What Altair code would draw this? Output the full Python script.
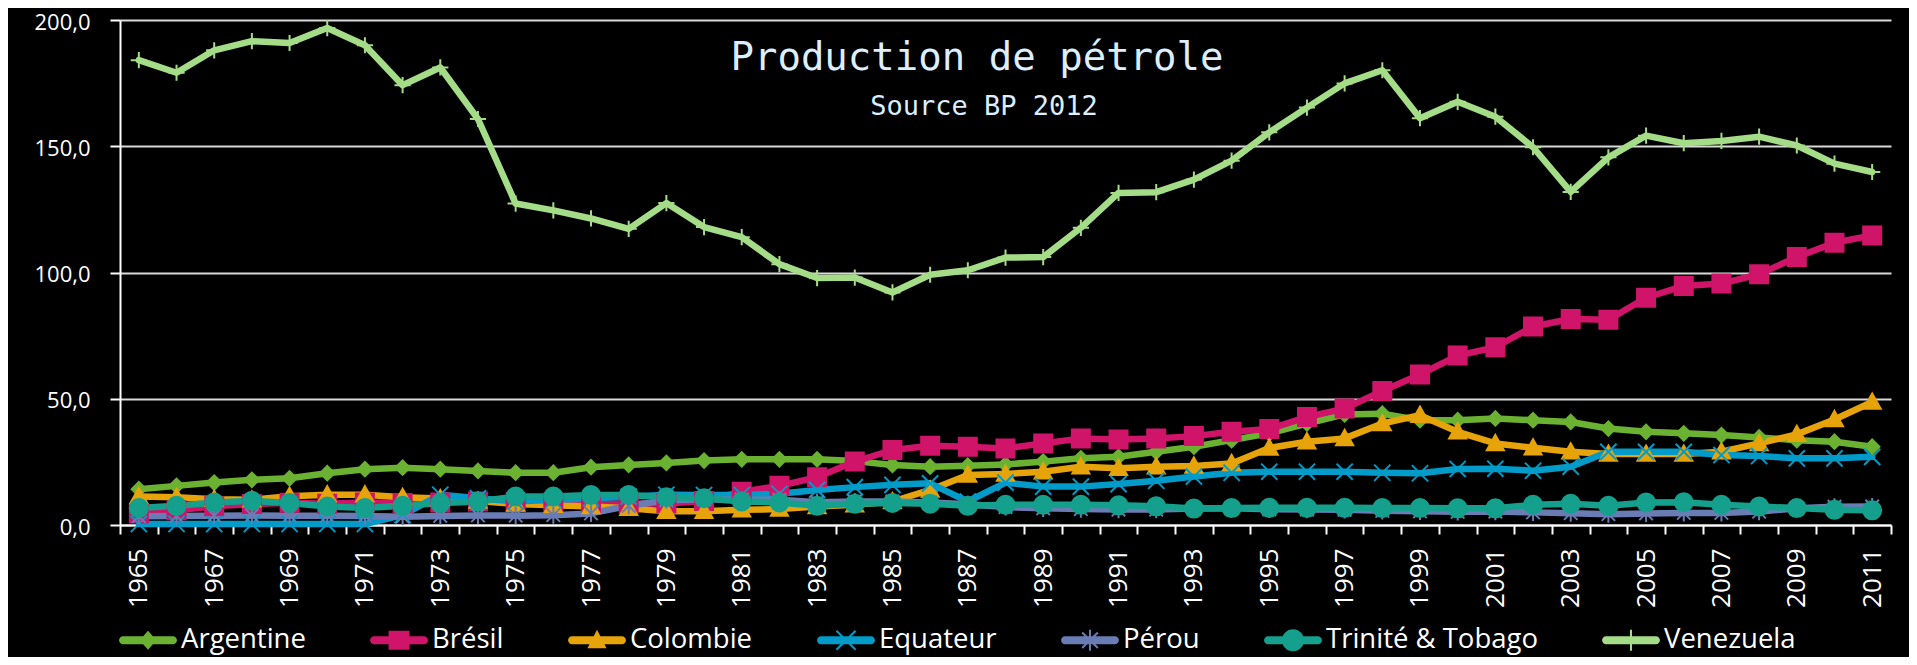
import altair as alt
import pandas as pd

years = list(range(1965, 2012))
countries = ["Argentine", "Brésil", "Colombie", "Equateur", "Pérou", "Trinité & Tobago", "Venezuela"]
colors = ["#6CB232", "#D0146A", "#E6A30A", "#009BC8", "#697DB4", "#14A08C", "#A5DC87"]

argentine = [14.2, 15.5, 16.8, 17.9, 18.5, 20.5, 22.1, 22.7, 22.1, 21.4,
             20.7, 20.7, 22.9, 23.8, 24.6, 25.5, 26.0, 26.0, 26.0, 25.3,
             23.8, 23.1, 23.5, 24.0, 25.1, 26.4, 27.0, 29.0, 31.0, 33.6,
             36.3, 40.2, 43.8, 44.1, 41.5, 41.5, 42.2, 41.5, 40.8, 38.2,
             36.9, 36.3, 35.6, 34.7, 33.6, 33.0, 31.0]
bresil = [4.6, 5.8, 7.4, 8.3, 8.8, 8.4, 8.9, 8.7, 8.9, 9.3,
          9.1, 8.9, 8.5, 8.4, 8.5, 9.5, 13.2, 15.5, 18.9, 25.1,
          29.7, 31.4, 31.0, 30.3, 32.3, 34.3, 33.9, 34.3, 35.2, 36.9,
          38.0, 42.8, 46.1, 53.1, 59.6, 67.1, 70.4, 78.6, 81.6, 81.3,
          90.0, 94.7, 95.6, 99.3, 106.1, 111.8, 114.7]
colombie = [11.3, 11.0, 10.2, 10.0, 11.4, 12.0, 12.0, 11.0, 10.5, 9.5,
            8.3, 7.8, 7.3, 6.6, 5.4, 5.4, 6.0, 6.3, 7.3, 8.0,
            9.3, 13.9, 19.8, 20.2, 21.1, 23.1, 22.5, 23.1, 23.4, 24.4,
            30.5, 33.0, 34.3, 40.2, 43.5, 36.9, 32.3, 30.6, 29.0, 28.1,
            28.1, 28.1, 29.0, 32.3, 35.9, 41.8, 48.7]
equateur = [0.4, 0.4, 0.4, 0.4, 0.4, 0.4, 0.4, 3.9, 12.0, 10.6,
            9.3, 10.0, 10.6, 11.2, 12.0, 11.9, 11.9, 12.4, 13.9, 15.0,
            15.9, 16.5, 9.3, 16.8, 15.2, 15.2, 16.2, 17.5, 19.2, 20.7,
            21.1, 21.1, 21.1, 20.7, 20.5, 22.2, 22.3, 21.5, 23.1, 29.0,
            29.0, 29.0, 27.7, 27.3, 26.4, 26.4, 27.0]
perou = [3.5, 3.6, 3.7, 3.8, 3.7, 3.7, 3.6, 3.3, 3.6, 3.8,
         3.7, 3.9, 4.6, 7.6, 9.8, 10.2, 10.0, 10.0, 9.0, 9.3,
         9.3, 8.9, 8.2, 7.1, 6.6, 6.3, 6.1, 6.1, 6.5, 6.6,
         6.2, 6.1, 6.0, 5.6, 5.4, 5.2, 5.3, 5.0, 4.7, 4.3,
         4.6, 4.8, 4.8, 5.3, 6.6, 7.2, 7.3]
trinite = [6.7, 7.6, 8.9, 9.6, 8.7, 7.3, 6.7, 7.6, 8.7, 9.3,
           11.3, 11.3, 11.9, 11.9, 11.0, 10.6, 9.3, 8.9, 7.6, 8.4,
           8.7, 8.4, 7.6, 8.0, 8.0, 8.0, 7.8, 7.4, 6.5, 6.7,
           6.8, 6.8, 6.8, 6.7, 6.7, 6.6, 6.6, 8.0, 8.4, 7.6,
           8.9, 9.0, 8.0, 7.3, 6.7, 6.0, 5.8]
venezuela = [184.1, 179.1, 188.0, 191.6, 190.9, 196.8, 190.0, 174.2, 181.2, 160.8,
             127.3, 124.6, 121.4, 117.3, 127.5, 118.0, 114.0, 103.3, 97.8, 98.0,
             92.1, 99.1, 100.9, 105.9, 106.1, 117.7, 131.5, 131.8, 136.8, 144.3,
             155.5, 165.3, 174.9, 180.1, 161.1, 167.6, 161.7, 149.6, 131.9, 145.6,
             154.2, 151.2, 152.1, 153.8, 150.3, 143.1, 139.8]

title_lines = ["Production de pétrole", "Source BP 2012"]
y_ticks = [0, 50, 100, 150, 200]

series = [argentine, bresil, colombie, equateur, perou, trinite, venezuela]
rows = []
for c, vals in zip(countries, series):
    for yr, v in zip(years, vals):
        rows.append({"annee": yr, "pays": c, "valeur": v})
df = pd.DataFrame(rows)

# marker shapes on the chart (unit square [-1,1])
chart_shapes = [
    "M0,-0.8L0.8,0L0,0.8L-0.8,0Z",
    "M-1,-1L1,-1L1,1L-1,1Z",
    "M0,-0.95L0.95,0.75L-0.95,0.75Z",
    "M-0.9,-0.9L0.9,0.9M0.9,-0.9L-0.9,0.9",
    "M-0.75,-0.75L0.75,0.75M0.75,-0.75L-0.75,0.75M0,-0.95L0,0.95",
    "M1,0A1,1,0,1,1,-1,0A1,1,0,1,1,1,0Z",
    "M-0.9,0L0.9,0M0,-0.9L0,0.9",
]

# legend symbols: a line segment with the marker (filled polygons, clockwise)
def diag_x(a, d):
    p1 = "M%g,%gL%g,%gL%g,%gL%g,%gZ" % (-a + d, -a - d, a + d, a - d, a - d, a + d, -a - d, -a + d)
    p2 = "M%g,%gL%g,%gL%g,%gL%g,%gZ" % (a + d, -a + d, -a + d, a + d, -a - d, a - d, a - d, -a - d)
    return p1 + p2

def vbar(t, b):
    return "M%g,%gL%g,%gL%g,%gL%g,%gZ" % (-t, -b, t, -b, t, b, -t, b)

r = 0.138
bar = "M-0.86,%gL0.86,%gA%g,%g,0,0,1,0.86,%gL-0.86,%gA%g,%g,0,0,1,-0.86,%gZ" % (-r, -r, r, r, r, r, r, r, -r)
legend_markers = [
    "M0,-0.33L0.29,0L0,0.33L-0.29,0Z",
    "M-0.36,-0.33L0.36,-0.33L0.36,0.33L-0.36,0.33Z",
    "M0,-0.36L0.33,0.28L-0.33,0.28Z",
    diag_x(0.33, 0.025),
    diag_x(0.27, 0.025) + vbar(0.035, 0.36),
    "M0.38,0A0.38,0.38,0,1,1,-0.38,0A0.38,0.38,0,1,1,0.38,0Z",
    vbar(0.035, 0.36),
]
legend_paths = [bar + m for m in legend_markers]

FONT = "Open Sans"

def cscale():
    return alt.Scale(domain=countries, range=colors)

x_enc = alt.X(
    "annee:O",
    scale=alt.Scale(type="band", paddingInner=0, paddingOuter=0),
    axis=alt.Axis(
        title=None, labelAngle=-90, labelExpr="datum.value % 2 == 1 ? datum.label : ''",
        labelFont=FONT, labelFontSize=26, labelColor="white", labelPadding=14,
        tickBand="extent", tickColor="white", tickSize=9, tickWidth=2,
        domainColor="white", domainWidth=2, grid=False,
    ),
)
y_enc = alt.Y(
    "valeur:Q",
    scale=alt.Scale(domain=[0, 200], nice=False),
    axis=alt.Axis(
        title=None, values=y_ticks,
        labelExpr="replace(format(datum.value, '.1f'), '.', ',')",
        labelFont=FONT, labelFontSize=22, labelColor="white", labelPadding=20,
        labelOffset=2,
        tickColor="white", tickSize=10, tickWidth=2,
        domainColor="white", domainWidth=2,
        grid=True, gridColor="#D9D9D9", gridWidth=2,
    ),
)

lines = alt.Chart(df).mark_line(strokeWidth=6.5, strokeCap="round", strokeJoin="round").encode(
    x=x_enc, y=y_enc,
    color=alt.Color("pays:N", scale=cscale(), legend=None),
)

points = alt.Chart(df).mark_point(filled=True, size=324, strokeWidth=2, opacity=1).encode(
    x=x_enc, y=y_enc,
    color=alt.Color("pays:N", scale=cscale(), legend=None),
    stroke=alt.Stroke("pays:N", scale=cscale(), legend=None),
    shape=alt.Shape("pays:N", scale=alt.Scale(domain=countries, range=chart_shapes), legend=None),
)

legend_kw = dict(
    orient="none", legendX=-1, legendY=591, direction="horizontal", columns=7,
    title=None, padding=0, symbolSize=3364, symbolStrokeWidth=0, symbolOpacity=1,
    labelFont=FONT, labelFontSize=27.5, labelColor="white", labelLimit=400,
    labelOffset=4, columnPadding=64,
)
legend_layer = alt.Chart(df).transform_filter("datum.valeur < 0").mark_point(
    filled=True, opacity=1, size=3364
).encode(
    x=x_enc, y=y_enc,
    color=alt.Color("pays:N", scale=cscale(), legend=alt.Legend(**legend_kw)),
    shape=alt.Shape("pays:N", scale=alt.Scale(domain=countries, range=legend_paths),
                    legend=alt.Legend(**legend_kw)),
)

tdf = pd.DataFrame({"t": title_lines})
title_main = alt.Chart(tdf).transform_filter(alt.datum.t == title_lines[0]).mark_text(
    font="DejaVu Sans Mono", fontSize=39, color="#DDEEFF", align="center", baseline="alphabetic"
).encode(x=alt.value(857), y=alt.value(50), text="t:N")
title_sub = alt.Chart(tdf).transform_filter(alt.datum.t == title_lines[1]).mark_text(
    font="DejaVu Sans Mono", fontSize=27, color="#DDEEFF", align="center", baseline="alphabetic"
).encode(x=alt.value(864), y=alt.value(95), text="t:N")

chart = alt.layer(lines, points, legend_layer, title_main, title_sub).resolve_scale(
    color="independent", shape="independent", stroke="independent"
).properties(
    width=1771, height=505,
    autosize=alt.AutoSizeParams(type="none"),
    padding={"left": 112, "top": 12, "right": 18, "bottom": 132},
).configure(background="black").configure_view(stroke=None)

chart.save("out.html", embed_options={"renderer": "svg", "actions": False})
